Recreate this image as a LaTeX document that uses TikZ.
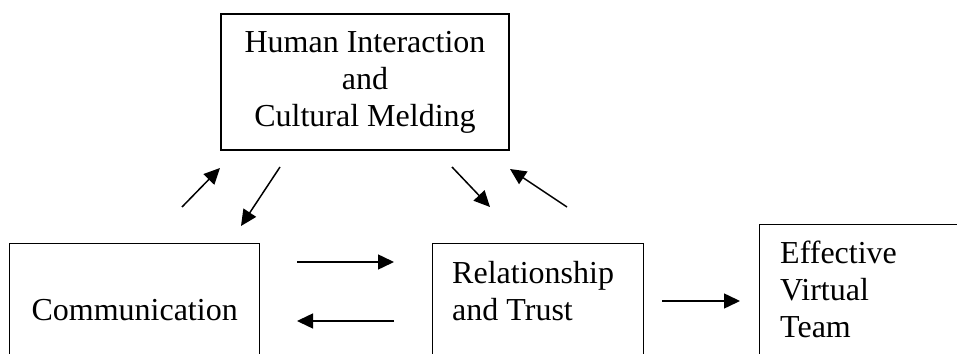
\documentclass[tikz,border=0pt]{standalone}
\usepackage{fontspec}
\setmainfont{Liberation Serif}
\usetikzlibrary{positioning,arrows.meta}
\tikzset{>={Triangle[length=16pt,width=15pt]}}

\begin{document}
\begin{tikzpicture}[x=1pt,y=1pt]

                        % boxes are cut off by the page at the bottom (and right)
                        \tikzstyle{every node}=[font=\fontsize{32}{37}\selectfont]
                        \tikzstyle{box}=[draw=black, line width=1.3pt, inner sep=0pt]
                        \tikzstyle{flow}=[->, line width=1.5pt]
                        \useasboundingbox (0,0) rectangle (957,353);
                        \clip (0,0) rectangle (957,353);

                        \node[box, minimum width=288, minimum height=136, align=center] (hic) at (365,271)
                                {Human Interaction\\and\\Cultural Melding};
                        \node[box, minimum width=250, minimum height=150, anchor=north west] (comm) at (9,110) {};
                        \node[box, minimum width=211, minimum height=150, anchor=north west] (rt) at (432,110) {};
                        \node[box, minimum width=260, minimum height=150, anchor=north west] (evt) at (759,129) {};

                        \node[anchor=north, inner sep=0pt] (commtext) at ([yshift=-56]comm.north) {Communication};
                        \node[anchor=north west, inner sep=0pt, align=left] (rttext) at ([xshift=20,yshift=-18]rt.north west)
                                {Relationship\\and Trust};
                        \node[anchor=north west, inner sep=0pt, align=left] (evttext) at ([xshift=21,yshift=-17]evt.north west)
                                {Effective\\Virtual\\Team};

                        % free arrow ends
                        \coordinate (up1s) at (182,146);  \coordinate (up1e) at (220,185);
                        \coordinate (dn1s) at (280,186);  \coordinate (dn1e) at (241,127);
                        \coordinate (dn2s) at (452,186);  \coordinate (dn2e) at (490,146);
                        \coordinate (up2s) at (567,146);  \coordinate (up2e) at (510,184);
                        \coordinate (ctrs) at (297,91);   \coordinate (ctre) at (394,91);
                        \coordinate (rtcs) at (394,32);   \coordinate (rtce) at (297,32);
                        \coordinate (rtes) at (662,52);   \coordinate (rtee) at (740,52);

                        \draw[flow] (up1s) -- (up1e);
                        \draw[flow] (dn1s) -- (dn1e);
                        \draw[flow] (dn2s) -- (dn2e);
                        \draw[flow] (up2s) -- (up2e);
                        \draw[flow] (ctrs) -- (ctre);
                        \draw[flow] (rtcs) -- (rtce);
                        \draw[flow] (rtes) -- (rtee);
                \end{tikzpicture}
\end{document}
